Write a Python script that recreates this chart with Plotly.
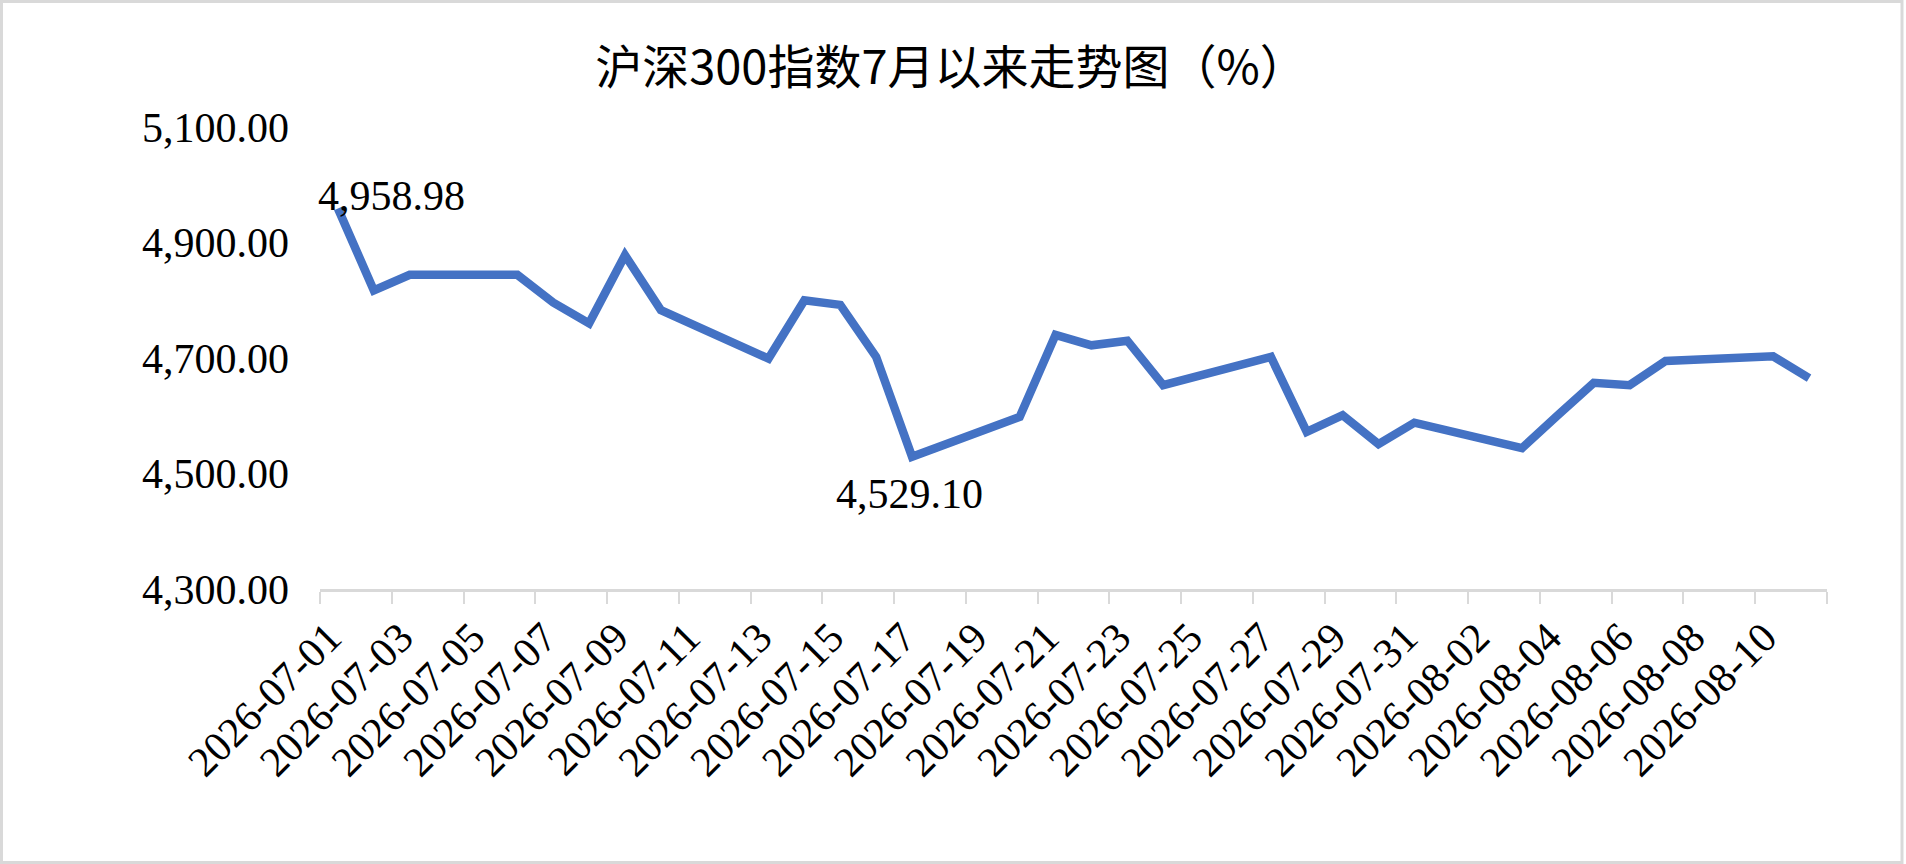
import plotly.graph_objects as go

# trading days and closing values (weekends are absent, line runs straight across them)
dates = [
    "2026-07-01", "2026-07-02", "2026-07-03", "2026-07-06", "2026-07-07",
    "2026-07-08", "2026-07-09", "2026-07-10", "2026-07-13", "2026-07-14",
    "2026-07-15", "2026-07-16", "2026-07-17", "2026-07-20", "2026-07-21",
    "2026-07-22", "2026-07-23", "2026-07-24", "2026-07-27", "2026-07-28",
    "2026-07-29", "2026-07-30", "2026-07-31", "2026-08-03", "2026-08-04",
    "2026-08-05", "2026-08-06", "2026-08-07", "2026-08-10", "2026-08-11",
]
values = [
    4958.98, 4817, 4844, 4844, 4796,
    4760, 4878, 4783, 4699, 4800,
    4792, 4702, 4529.10, 4598, 4740,
    4722, 4730, 4653, 4702, 4572,
    4601, 4551, 4588, 4544, 4601,
    4657, 4653, 4695, 4703, 4665,
]
labelled = ["2026-07-01", "2026-07-17"]

title_text = "沪深300指数7月以来走势图（%）"
y_range = [4300, 5100]
x_range = ["2026-06-30 12:00", "2026-08-11 12:00"]

W, H = 1906, 864
ML, MR, MT, MB = 320, 79, 127, 275
DAY = 86400000
num_font = "Liberation Serif"
num_size = 42

fig = go.Figure()
fig.add_trace(go.Scatter(
    x=dates, y=values, mode="lines",
    line=dict(color="#4472C4", width=8.5),
    hoverinfo="x+y", showlegend=False,
))

# data labels for first value and minimum
shifts = {"2026-07-01": (54, 12), "2026-07-17": (-3, -37)}
for d in labelled:
    v = values[dates.index(d)]
    dx, dy = shifts[d]
    fig.add_annotation(
        x=d, y=v, text=f"{v:,.2f}", showarrow=False,
        xshift=dx, yshift=dy,
        font=dict(family=num_font, size=num_size, color="#000000"),
    )

# chart area border
pw, ph = W - ML - MR, H - MT - MB
fig.add_shape(
    type="rect", xref="paper", yref="paper",
    x0=(1.5 - ML) / pw, x1=(W - 4 - ML) / pw,
    y0=(1.5 - MB) / ph, y1=(H - 1.5 - MB) / ph,
    line=dict(color="#D9D9D9", width=3), layer="below",
)

fig.update_layout(
    width=W, height=H,
    margin=dict(l=ML, r=MR, t=MT, b=MB),
    paper_bgcolor="white", plot_bgcolor="white",
    title=dict(
        text=title_text, x=951 / W, xref="container", xanchor="center",
        y=1 - 68 / H, yref="container", yanchor="middle",
        font=dict(family="Noto Sans CJK SC", size=47, color="#000000"),
    ),
    xaxis=dict(
        type="date", range=x_range,
        tick0="2026-07-01", dtick=2 * DAY, tickformat="%Y-%m-%d",
        tickangle=-45, ticks="", ticklabelstandoff=4, ticklabelshift=-9,
        tickfont=dict(family=num_font, size=num_size, color="#000000"),
        showline=True, linecolor="#D9D9D9", linewidth=3,
        showgrid=False, zeroline=False,
        minor=dict(ticks="outside", tick0=x_range[0], dtick=2 * DAY,
                   ticklen=12, tickwidth=2, tickcolor="#D9D9D9", showgrid=False),
    ),
    yaxis=dict(
        range=y_range, tick0=y_range[0], dtick=200, tickformat=",.2f",
        ticks="", ticklabelstandoff=30,
        tickfont=dict(family=num_font, size=num_size, color="#000000"),
        showline=False, showgrid=False, zeroline=False,
    ),
)

fig.write_html("out.html", config={"displayModeBar": False},
               post_script="document.body.style.margin='0';")
